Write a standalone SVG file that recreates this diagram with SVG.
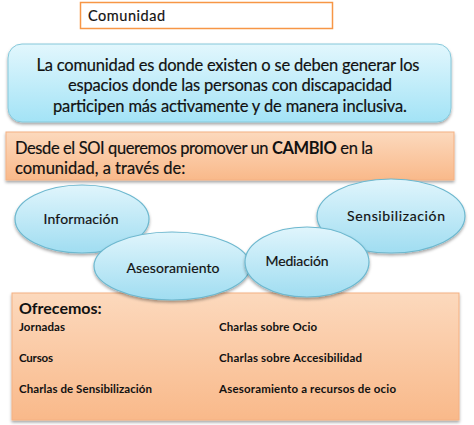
<svg xmlns="http://www.w3.org/2000/svg" width="474" height="425" viewBox="0 0 474 425">
<defs>
<linearGradient id="gBlue" x1="0" y1="0" x2="0" y2="1"><stop offset="0" stop-color="#E2F7FD"/><stop offset="1" stop-color="#A3E3F6"/></linearGradient>
<linearGradient id="gOr" x1="0" y1="0" x2="0" y2="1"><stop offset="0" stop-color="#FCD9BD"/><stop offset="1" stop-color="#F9B98A"/></linearGradient>
<linearGradient id="gEl" x1="0" y1="0" x2="0" y2="1"><stop offset="0" stop-color="#E0F5FC"/><stop offset="1" stop-color="#A0DDF1"/></linearGradient>
<filter id="sh" x="-10%" y="-10%" width="120%" height="130%"><feDropShadow dx="0" dy="2" stdDeviation="1.8" flood-color="#000" flood-opacity="0.35"/></filter>
</defs>
<style>
text{font-family:Lato,"Open Sans","Liberation Sans",sans-serif;fill:#111}
.rg{stroke:#111;stroke-width:0.18}
.el{fill:url(#gEl);stroke:#6DB8CF;stroke-width:1.2}
.el2{font-size:14px;text-anchor:middle;stroke:#111;stroke-width:0.18}
.it{font-size:11.5px;font-weight:bold}
</style>
<rect width="474" height="425" fill="#fff"/>
<g id="title">
<rect x="80.5" y="2.5" width="252" height="26" fill="#fff" stroke="#F79646" stroke-width="1.5"/>
<text class="rg" x="88" y="21" font-size="14.5" textLength="77">Comunidad</text>
</g>
<g id="def">
<rect x="8" y="44" width="443" height="78" rx="14" fill="url(#gBlue)" stroke="#86C8DA" stroke-width="1" filter="url(#sh)"/>
<text class="rg" font-size="16.5" text-anchor="middle"><tspan x="228" y="71" textLength="383">La comunidad es donde existen o se deben generar los</tspan><tspan x="230" y="91" textLength="324">espacios donde las personas con discapacidad</tspan><tspan x="230" y="112" textLength="354">participen más activamente y de manera inclusiva.</tspan></text>
</g>
<g id="cambio">
<rect x="6" y="132" width="448" height="48" fill="url(#gOr)" stroke="#F4B183" stroke-width="1" filter="url(#sh)"/>
<text class="rg" font-size="16.5"><tspan x="15" y="154" textLength="358">Desde el SOI queremos promover un <tspan font-weight="bold" stroke-width="0">CAMBIO</tspan> en la</tspan><tspan x="15" y="174">comunidad, a través de:</tspan></text>
</g>
<g id="ofrecemos">
<rect x="12" y="293" width="447" height="127" fill="url(#gOr)" stroke="#F4B183" stroke-width="1" filter="url(#sh)"/>
<text x="19" y="314" font-size="16" font-weight="bold">Ofrecemos:</text>
<text class="it" x="19" y="331" textLength="46">Jornadas</text>
<text class="it" x="19" y="362" textLength="34">Cursos</text>
<text class="it" x="19" y="393" textLength="133">Charlas de Sensibilización</text>
<text class="it" x="219" y="331" textLength="98">Charlas sobre Ocio</text>
<text class="it" x="219" y="362" textLength="143">Charlas sobre Accesibilidad</text>
<text class="it" x="219" y="393" textLength="177">Asesoramiento a recursos de ocio</text>
</g>
<g id="connectors"></g>
<g id="informacion">
<ellipse class="el" cx="82" cy="219" rx="67" ry="34" filter="url(#sh)"/>
<text class="el2" x="81" y="224" textLength="75">Información</text>
</g>
<g id="sensibilizacion">
<ellipse class="el" cx="391" cy="216" rx="74" ry="37" filter="url(#sh)"/>
<text class="el2" x="396" y="221" textLength="98">Sensibilización</text>
</g>
<g id="asesoramiento">
<ellipse class="el" cx="172" cy="266" rx="78" ry="34" filter="url(#sh)"/>
<text class="el2" x="173" y="273" textLength="93">Asesoramiento</text>
</g>
<g id="mediacion">
<ellipse class="el" cx="307" cy="262" rx="62" ry="35" filter="url(#sh)"/>
<text class="el2" x="297" y="266" textLength="63">Mediación</text>
</g>
</svg>
